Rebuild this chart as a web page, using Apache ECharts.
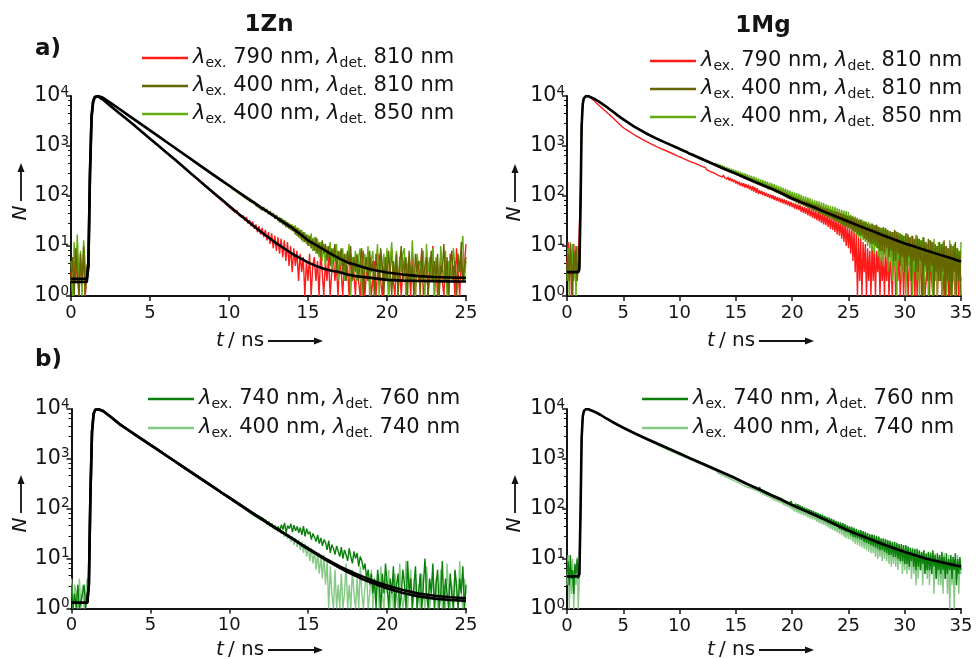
<!DOCTYPE html>
<html>
<head>
<meta charset="utf-8">
<script src="https://cdn.jsdelivr.net/npm/echarts@6/dist/echarts.min.js"></script>
<style>
  html, body { margin: 0; padding: 0; background: #fff; }
  #chart { width: 976px; height: 659px; }
</style>
</head>
<body>
<div id="chart"></div>
<script>
// Time-correlated photon counting decays, channel width of the traces below (ns)
const dt = 0.1;

// ---- 1Zn, panel a (0 ... 25 ns) ----
const zn_ex790_det810 = [
  3,1,5,2,8,1,4,2,6,1,3,
  4,310,4050,8050,9620,10000,9780,9480,9060,8610,
  8140,7600,7230,6700,6340,5900,5620,5250,5010,4670,
  4460,4130,3950,3690,3520,3260,3120,2900,2790,2580,
  2460,2280,2170,2010,1920,1770,1700,1570,1510,1385,
  1330,1225,1180,1080,1045,955,925,845,820,748,
  726,660,645,583,568,515,502,455,447,401,
  394,354,348,312,309,276,273,244,242,214,
  214,188,189,166,168,146,148,130,131,114,
  117,100,104,88,92,78,82,69,73,60,
  65,53,58,47,52,42,46,37,41,32,
  38,28,33,25,31,22,27,19,25,17,
  23,15,21,13,19,11,18,9,16,8,
  15,7,14,6,13,5,12,4,10,3,
  9,4,8,2,7,3,6,1,5,2,
  7,1,4,6,2,5,1,8,3,1,
  5,2,6,1,3,7,2,4,1,5,
  3,1,6,2,4,1,7,2,3,1,
  5,2,1,4,8,1,3,2,6,1,
  2,5,1,3,7,2,1,4,2,6,
  1,3,9,2,1,5,2,4,1,3,
  6,1,2,4,1,7,3,1,5,2,
  3,8,1,2,5,1,4,2,10,1,
  4,1,3,6,2,1,5,3,1,7,
  2,4,1,9,3,1,6,2,4,11
];
const zn_ex400_det810 = [
  2,6,1,9,3,1,7,2,10,1,4,
  5,240,3450,7450,9250,9880,10020,9870,9620,9310,
  8890,8430,8080,7640,7320,6930,6640,6280,6010,5680,
  5430,5120,4900,4610,4420,4160,3990,3750,3600,3390,
  3250,3060,2950,2770,2670,2500,2410,2250,2180,2030,
  1970,1830,1780,1650,1610,1490,1450,1340,1310,1215,
  1185,1090,1070,985,970,890,875,805,795,725,
  715,655,650,590,585,530,530,480,478,432,
  436,390,392,352,354,316,320,285,290,258,
  262,236,241,213,204,207,183,186,166,158,
  160,139,145,128,133,114,118,104,109,93,
  99,84,91,76,81,77,64,70,59,63,
  52,60,48,53,43,49,40,45,35,41,
  38,30,36,27,33,24,30,22,27,20,
  25,17,23,15,21,13,19,12,17,10,
  16,9,14,8,15,7,12,6,13,7,
  11,5,10,4,9,6,11,3,8,5,
  9,3,7,2,8,4,10,2,6,3,
  7,2,5,9,1,4,6,2,8,3,
  5,1,7,3,2,9,4,1,6,2,
  8,3,1,5,2,7,1,4,10,2,
  3,6,1,8,2,4,1,7,3,5,
  1,9,2,4,6,1,3,8,2,5,
  2,7,1,4,3,11,2,6,1,4,
  8,2,5,1,7,3,12,2,4,6
];
const zn_ex400_det850 = [
  5,1,12,3,17,2,8,1,13,4,2,
  6,230,3400,7400,9200,9850,10000,9880,9600,9300,
  8840,8470,8020,7690,7270,6970,6590,6320,5960,5720,
  5390,5160,4860,4650,4380,4190,3950,3790,3560,3410,
  3220,3100,2910,2800,2630,2540,2370,2290,2140,2070,
  1930,1870,1740,1690,1570,1530,1420,1380,1280,1245,
  1160,1125,1045,1020,940,920,850,830,765,750,
  695,676,625,612,565,552,508,500,458,452,
  415,406,375,368,338,334,305,300,276,270,
  250,246,224,224,202,202,183,184,165,167,
  148,152,134,137,121,124,110,112,99,102,
  89,94,80,86,73,78,66,71,60,64,
  54,59,50,55,45,50,41,46,37,42,
  32,38,29,35,26,32,23,29,21,27,
  19,26,16,23,14,21,12,19,11,17,
  10,18,8,15,7,14,6,12,5,11,
  4,10,6,12,3,9,5,11,2,8,
  4,9,2,7,5,11,1,6,3,8,
  2,6,9,1,4,7,3,10,1,5,
  8,2,4,11,1,6,3,7,2,9,
  1,5,12,2,4,8,1,6,3,7,
  9,1,4,6,2,13,3,1,7,4,
  5,2,8,1,11,3,6,2,9,1,
  6,3,1,10,4,2,8,1,5,3,
  2,9,4,1,6,3,8,16,2,5
];

// fitted curves, 1Zn time grid
const fitTimesZn = [0,1,1.1,1.2,1.3,1.4,1.5,1.6,1.7,1.8,
  2,2.5,3,3.5,4,4.5,5,5.5,6,6.5,7,7.5,8,8.5,9,9.5,10,10.5,11,11.5,12,12.5,13,13.5,14,14.5,15,15.5,16,16.5,17,17.5,18,18.5,19,19.5,20,
  21,22,23,24,25];
const fitZn_ex790 = [1.9,1.9,4,300,4000,8000,9600,10000,9850,9500,
  8600,6300,4700,3500,2600,1900,1400,1030,760,560,410,300,220,161,118,87,64,47,35,26,19.5,14.8,11.3,8.9,7,5.7,4.7,4.0,3.5,3.2,3.0,2.7,2.5,2.4,2.3,2.2,2.1,
  2.03,2.0,1.98,1.96,1.95];
const fitZn_ex400 = [2.2,2.2,4,250,3500,7500,9300,9900,10000,9900,
  9300,7300,5700,4400,3400,2650,2050,1590,1230,955,740,574,445,345,268,208,162,126,98,77,60,47,37,29,23,17.3,13,10.5,8.5,6.8,5.6,4.7,4.2,3.75,3.4,3.15,2.95,
  2.7,2.5,2.4,2.35,2.3];

// ---- 1Mg, panel a (0 ... 35 ns) ----
const mg_ex790_det810 = [
  4,12,2,9,1,6,11,3,8,2,5,
  5,120,3200,7600,9300,9800,10000,9950,9820,9690,
  9260,8800,8400,8000,7650,7270,6950,6600,6320,6010,
  5760,5480,5250,5000,4800,4580,4380,4170,4000,3810,
  3620,3450,3270,3120,2960,2820,2680,2550,2430,2300,
  2240,2160,2100,2020,1960,1890,1840,1770,1720,1650,
  1610,1560,1520,1470,1435,1390,1355,1310,1280,1240,
  1215,1175,1155,1115,1095,1060,1040,1005,985,955,
  940,912,900,870,860,830,822,792,785,758,
  750,722,716,688,684,655,652,624,622,596,
  596,566,568,538,542,510,517,486,493,470,
  475,446,456,423,437,405,418,387,399,374,
  382,352,368,335,356,318,343,305,321,292,
  304,276,296,260,285,250,272,238,262,232,
  247,218,240,205,230,196,220,188,210,178,
  200,170,192,160,185,155,180,148,172,144,
  168,136,160,128,158,122,150,116,143,110,
  130,110,126,104,120,100,115,96,110,92,
  106,88,104,84,99,80,95,77,92,74,
  88,71,85,68,82,65,79,62,76,60,
  73,56,71,54,68,52,66,48,62,46,
  60,44,58,41,57,39,54,37,52,35,
  50,33,48,31,47,29,44,27,42,26,
  41,24,39,22,38,21,35,19,33,17,
  32,16,31,14,29,12,27,10,25,9,
  24,7,22,5,20,3,18,1,15,2,
  14,1,12,3,11,1,9,2,8,1,
  11,2,9,1,8,3,10,1,6,2,
  8,1,7,2,9,1,5,3,1,6,
  7,1,4,2,8,1,3,6,1,5,
  2,6,1,4,9,1,3,5,1,7,
  1,4,2,8,1,3,6,1,2,5,
  3,1,7,2,1,5,2,9,1,4,
  2,6,1,3,1,8,2,4,1,5,
  1,3,7,2,1,4,6,1,3,2
];
const mg_ex400_det810 = [
  3,7,2,11,4,1,8,3,10,2,5,
  4,70,2600,7100,9050,9700,9980,10020,9900,9780,
  9560,9200,9010,8690,8500,8190,8010,7720,7550,7270,
  7060,6740,6540,6250,6070,5800,5630,5370,5220,4970,
  4850,4600,4490,4260,4160,3940,3850,3650,3570,3380,
  3320,3150,3100,2940,2900,2750,2710,2560,2540,2400,
  2380,2260,2240,2130,2120,2000,1995,1890,1885,1780,
  1780,1690,1690,1600,1605,1520,1525,1445,1450,1370,
  1385,1305,1320,1245,1255,1190,1200,1135,1145,1080,
  1100,1025,1050,980,1005,935,965,895,920,850,
  885,810,840,775,805,735,770,700,735,670,
  705,640,675,610,645,580,620,555,585,530,
  552,514,527,490,503,468,481,447,459,428,
  440,405,421,386,402,370,383,354,366,337,
  352,321,337,306,322,294,309,283,297,270,
  285,262,274,248,263,236,251,226,240,215,
  230,207,222,196,212,188,202,180,194,171,
  186,166,180,158,172,150,165,143,156,137,
  152,132,147,124,140,118,133,112,127,107,
  122,102,117,96,111,90,106,86,101,82,
  97,78,94,74,90,70,86,67,82,64,
  80,61,78,58,75,56,72,53,68,51,
  67,49,65,46,62,44,59,41,56,40,
  56,38,54,36,52,34,50,32,48,31,
  47,29,45,27,44,25,42,24,40,23,
  40,22,39,20,37,19,35,17,33,16,
  33,16,31,14,30,13,28,12,27,11,
  28,11,26,10,27,9,24,8,23,8,
  24,7,23,9,21,6,20,8,19,5,
  21,5,19,7,18,4,17,6,16,3,
  18,4,17,6,15,2,16,5,14,3,
  16,3,14,5,13,1,15,4,12,2,
  14,2,13,4,12,1,11,3,10,2,
  12,2,11,3,13,1,10,2,9,1,
  11,1,10,3,12,1,9,2,8,1
];
const mg_ex400_det850 = [
  2,9,1,12,3,11,2,7,1,10,4,
  3,60,2550,7050,9000,9680,9990,10000,9880,9770,
  9500,9260,8960,8740,8450,8240,7960,7760,7500,7310,
  7000,6790,6500,6290,6030,5840,5590,5410,5180,5010,
  4800,4650,4440,4310,4110,3990,3800,3700,3530,3420,
  3280,3200,3060,2990,2850,2800,2660,2610,2490,2440,
  2340,2300,2200,2170,2070,2050,1955,1930,1845,1815,
  1740,1720,1650,1640,1565,1560,1490,1480,1415,1410,
  1345,1345,1280,1285,1220,1230,1165,1175,1110,1120,
  1055,1075,1010,1030,965,985,920,945,880,900,
  830,870,790,830,760,795,725,760,695,725,
  650,700,625,665,600,635,575,610,550,585,
  520,565,500,540,480,520,460,500,440,480,
  410,458,395,440,378,425,362,410,348,395,
  326,378,314,362,302,350,290,338,278,326,
  262,316,252,304,242,294,232,282,222,272,
  208,262,200,252,192,244,184,234,176,226,
  166,216,160,208,152,200,146,194,140,186,
  132,180,126,172,120,166,114,158,110,152,
  104,146,98,140,94,134,90,128,86,122,
  82,118,78,114,74,110,70,106,67,100,
  64,97,61,94,58,90,55,86,53,82,
  50,80,47,78,45,75,43,72,41,68,
  39,66,36,64,34,62,33,60,31,57,
  30,55,28,53,26,51,25,50,23,48,
  22,42,20,40,18,39,17,37,15,35,
  14,34,13,32,12,31,10,30,9,28,
  8,27,7,26,9,25,6,24,5,23,
  4,22,6,21,3,20,5,19,2,19,
  4,20,1,19,5,18,2,17,3,16,
  1,18,4,15,2,16,1,14,3,17,
  2,14,1,13,4,15,1,12,3,11,
  1,13,3,12,1,14,2,10,1,12,
  2,11,1,12,3,10,1,9,2,13,
  1,10,2,11,1,9,3,8,1,12
];

// fitted curves, 1Mg time grid
const fitTimesMg = [0,1,1.1,1.2,1.3,1.4,1.5,1.6,1.7,1.8,1.9,2,2.5,3,3.5,4,4.5,5,
  6,7,8,9,10,11,12,13,14,15,16,17,18,19,20,21,22,23,24,25,26,27,28,29,30,31,32,33,34,35];
const fitMg_ex400 = [3,3,3.5,60,2500,7000,9000,9700,10000,10000,9900,9800,8600,7300,6100,5000,4100,3400,
  2420,1800,1390,1100,875,690,550,437,347,280,224,180,145,115,89,72,59,47,38,31,25,20.5,16.6,13.7,11.2,9.5,8,6.8,5.8,4.9];

// ---- 1Zn, panel b (0 ... 25 ns) ----
const zn_ex740_det760 = [
  3,1,2,1,3,1,1,2,3,1,2,
  3,210,3450,7950,9580,10000,9910,9690,9400,9080,
  8620,8120,7740,7270,6930,6480,6130,5740,5440,5090,
  4880,4600,4410,4160,4000,3770,3620,3410,3280,3080,
  2970,2790,2700,2530,2450,2290,2220,2080,2020,1885,
  1835,1710,1665,1550,1510,1405,1372,1275,1245,1155,
  1130,1048,1027,950,932,862,846,780,768,708,
  697,640,632,581,575,526,521,477,472,432,
  430,392,390,355,354,322,322,293,290,265,
  265,240,240,218,218,197,198,178,179,162,
  164,146,148,133,136,119,122,109,112,98,
  103,88,94,80,86,72,78,66,71,60,
  66,54,60,49,55,45,50,41,46,37,
  44,35,48,38,52,33,46,40,50,34,
  47,36,44,33,42,30,45,28,40,31,
  35,24,32,27,22,30,20,26,18,24,
  21,15,23,13,19,16,12,18,14,11,
  17,10,15,12,9,16,11,8,14,10,
  13,7,11,9,6,8,4,6,3,5,
  2,4,1,6,3,1,5,2,8,3,
  1,4,2,7,1,3,5,1,2,6,
  3,1,9,2,4,1,3,7,1,2,
  5,1,3,10,2,1,4,2,8,1,
  3,6,1,2,9,1,4,2,1,5,
  2,1,6,3,1,4,2,7,1,3
];
const zn_ex400_det740 = [
  4,1,3,2,1,4,1,3,1,2,4,
  3,190,3400,7900,9550,9980,9900,9700,9380,9100,
  8590,8160,7700,7310,6890,6520,6090,5780,5400,5120,
  4840,4640,4370,4200,3960,3810,3580,3440,3240,3110,
  2930,2820,2660,2560,2410,2320,2180,2110,1980,1915,
  1795,1740,1630,1580,1480,1435,1340,1300,1215,1180,
  1100,1070,995,970,905,880,820,800,742,725,
  672,658,610,598,552,544,500,494,455,448,
  412,406,373,370,340,336,308,304,280,275,
  254,250,230,227,208,205,188,187,171,168,
  154,162,138,146,126,133,114,122,104,110,
  95,100,86,90,78,82,70,75,63,68,
  57,63,52,56,47,51,43,46,38,42,
  34,39,31,35,27,33,25,30,22,28,
  19,26,17,24,15,22,13,20,11,18,
  9,16,8,14,6,13,5,11,4,12,
  3,9,1,7,2,1,6,1,3,1,
  5,1,2,8,1,3,1,6,2,1,
  4,1,7,2,1,3,5,1,2,6,
  1,3,2,5,1,7,2,1,4,2,
  6,1,3,1,5,2,1,8,2,1,
  2,9,1,3,6,1,2,4,1,3,
  1,5,2,1,7,3,1,2,6,1,
  4,1,2,6,1,3,1,8,2,1,
  3,1,5,2,1,9,2,1,4,2
];
const fitZn_ex740 = [1.3,1.3,3,200,3500,8000,9600,10000,9900,9700,
  9100,6900,5100,3980,3100,2430,1905,1495,1170,916,718,563,441,346,271,212,167,131,103,81,64,50.5,40,31.6,25.1,20,16,12.9,10.4,8.5,7.0,5.9,5.0,4.3,3.7,3.25,2.9,
  2.35,2.0,1.8,1.68,1.6];
const fitZn_ex400b = [1.3,1.3,3,200,3500,8000,9600,10000,9900,9700,
  9100,6900,5100,3980,3100,2430,1905,1495,1170,916,718,563,441,346,271,212,167,131,103,81,64,50.5,40,31.6,25.1,19.6,15.5,12.4,9.9,8.0,6.5,5.4,4.5,3.8,3.3,2.9,2.55,
  2.05,1.75,1.58,1.48,1.42];

// ---- 1Mg, panel b (0 ... 35 ns) ----
const mg_ex740_det760 = [
  5,9,3,12,4,6,2,8,5,10,4,
  5,90,2650,7150,9120,9760,10010,9990,9890,9760,
  9580,9320,9140,8900,8720,8470,8260,8010,7810,7580,
  7360,7110,6900,6660,6470,6260,6090,5890,5740,5550,
  5420,5250,5130,4970,4850,4700,4590,4450,4350,4210,
  4120,4000,3920,3800,3720,3610,3540,3430,3360,3260,
  3200,3110,3050,2960,2910,2820,2770,2690,2640,2560,
  2520,2445,2410,2335,2300,2230,2195,2125,2100,2030,
  2005,1940,1915,1850,1830,1770,1750,1690,1670,1610,
  1600,1535,1530,1465,1460,1400,1395,1335,1335,1275,
  1280,1215,1220,1160,1170,1105,1115,1055,1065,1005,
  1015,960,970,915,928,875,888,835,850,800,
  812,765,778,730,744,697,712,665,680,634,
  648,604,620,576,594,550,568,525,542,500,
  518,478,496,456,474,436,455,415,434,395,
  412,376,394,356,373,338,352,320,337,306,
  322,293,309,279,296,267,283,255,271,243,
  275,248,263,237,252,225,241,214,230,203,
  217,194,209,186,201,178,193,170,185,163,
  171,153,165,145,158,139,151,131,144,125,
  133,116,128,110,124,105,118,99,112,95,
  107,88,103,84,99,80,95,77,91,73,
  86,69,83,66,80,62,77,60,73,57,
  69,52,67,50,64,48,61,46,58,44,
  56,40,54,38,52,37,50,35,47,34,
  45,30,44,28,42,27,40,26,38,25,
  38,24,36,22,35,21,33,20,31,19,
  31,18,30,17,29,16,28,15,26,15,
  26,14,25,13,24,12,23,12,22,11,
  22,11,21,10,20,9,20,9,19,8,
  19,8,18,7,17,9,16,7,16,6,
  16,7,15,6,14,8,15,5,13,6,
  14,6,13,5,15,7,12,4,13,6,
  12,5,14,6,11,4,13,5,10,6,
  12,4,11,6,13,3,10,5,11,6
];
const mg_ex400_det740 = [
  3,12,1,7,2,10,1,6,3,11,1,
  4,70,2550,7050,9080,9740,10000,9980,9880,9750,
  9540,9310,9110,8890,8690,8450,8220,7990,7770,7560,
  7310,7070,6850,6620,6420,6220,6040,5850,5680,5510,
  5360,5200,5060,4920,4780,4640,4520,4400,4280,4160,
  4040,3930,3830,3720,3630,3530,3440,3350,3260,3180,
  3100,3020,2950,2880,2810,2740,2680,2610,2550,2490,
  2420,2360,2300,2250,2200,2150,2100,2050,2000,1960,
  1870,1795,1785,1715,1705,1640,1630,1565,1555,1495,
  1475,1410,1410,1345,1345,1285,1290,1225,1230,1170,
  1180,1110,1125,1060,1080,1010,1030,962,985,915,
  940,875,900,835,862,798,822,762,788,728,
  752,695,720,662,690,632,660,603,630,575,
  600,548,575,522,552,498,528,476,506,452,
  480,433,462,412,442,392,423,374,404,356,
  382,338,365,320,346,302,328,286,312,275,
  300,262,288,248,276,238,263,228,252,218,
  240,206,230,195,218,186,208,176,198,168,
  186,156,180,148,172,142,164,136,156,130,
  150,122,144,116,138,110,132,104,126,98,
  118,90,114,86,110,82,106,78,100,75,
  96,72,92,68,90,65,86,62,82,60,
  78,56,76,53,73,50,70,48,66,46,
  63,43,61,40,59,38,56,36,53,34,
  52,32,50,30,49,28,46,26,44,25,
  43,24,41,22,40,20,38,19,36,18,
  36,17,34,16,33,15,31,14,30,13,
  30,13,28,11,27,10,26,11,24,9,
  25,10,24,9,22,8,23,7,21,8,
  21,7,20,6,19,8,18,5,17,6,
  18,5,17,6,16,4,17,5,15,3,
  15,4,14,6,13,3,15,5,12,4,
  13,3,14,5,12,2,13,4,11,3,
  12,3,11,2,13,4,10,2,12,1,
  10,3,11,1,9,4,12,2,8,5
];
const fitMg_ex740 = [4.5,4.5,5,80,2600,7100,9100,9750,10000,10000,9900,9770,8710,7590,6460,5560,4840,4220,
  3270,2570,2040,1620,1290,1020,813,646,513,407,316,251,195,155,120,95,76,60,47,37,30,24.5,20,16.6,13.8,11.7,10,8.9,7.9,7.1];

// ---- drawing ----
const FONT = 'DejaVu Sans';
const INK = '#141414';
const colors = {
  ex790det810: '#ff1a1a',
  ex400det810: '#666600',
  ex400det850: '#63ad12',
  ex740det760: '#0a800a',
  ex400det740: '#85c985'
};

const trace = vals => vals.map((v, i) => [Math.round(i * dt * 10) / 10, v]);
const pairs = (ts, vs) => ts.map((t, i) => [t, vs[i]]);

function dataLine(name, vals, panel) {
  return {
    type: 'line', name, xAxisIndex: panel, yAxisIndex: panel,
    data: trace(vals), symbol: 'none', showSymbol: false, clip: true,
    silent: true, animation: false, z: 2,
    lineStyle: { width: 1.4, color: colors[name] }, itemStyle: { color: colors[name] }
  };
}
function fitLine(ts, vs, panel) {
  return {
    type: 'line', name: 'fit', xAxisIndex: panel, yAxisIndex: panel,
    data: pairs(ts, vs), symbol: 'none', showSymbol: false, clip: true,
    silent: true, animation: false, z: 3,
    lineStyle: { width: 2.6, color: '#000' }, itemStyle: { color: '#000' }
  };
}

const grids = [
  { left: 71, top: 96, width: 395, height: 200 },
  { left: 567, top: 96, width: 394, height: 200 },
  { left: 71.5, top: 409, width: 394.5, height: 199.5 },
  { left: 567, top: 409, width: 394, height: 200 }
];
const xMax = [25, 35, 25, 35];

const xAxes = grids.map((g, i) => ({
  type: 'value', gridIndex: i, min: 0, max: xMax[i], interval: 5,
  axisLine: { show: true, onZero: false, lineStyle: { color: INK, width: 2 } },
  axisTick: { show: true, inside: false, length: 5, lineStyle: { color: INK, width: 1.5 } },
  axisLabel: { color: INK, fontFamily: FONT, fontSize: 18, margin: 8 },
  splitLine: { show: false }
}));
const yAxes = grids.map((g, i) => ({
  type: 'log', gridIndex: i, min: 1, max: 10000, logBase: 10,
  axisLine: { show: true, lineStyle: { color: INK, width: 2 } },
  axisTick: { show: true, inside: false, length: 5, lineStyle: { color: INK, width: 1.5 } },
  minorTick: { show: true, splitNumber: 5, length: 3, lineStyle: { color: INK, width: 1 } },
  splitLine: { show: false },
  axisLabel: {
    margin: 2, color: INK, fontFamily: FONT,
    formatter: v => '{b|10}{s|' + Math.round(Math.log10(v)) + '}',
    rich: {
      b: { fontSize: 20.5, fontFamily: FONT, color: INK, lineHeight: 24 },
      s: { fontSize: 13.5, fontFamily: FONT, color: INK, lineHeight: 13, verticalAlign: 'top' }
    }
  }
}));

const legendRich = {
  l: { fontSize: 21, fontStyle: 'italic', fontFamily: FONT, color: INK, lineHeight: 24 },
  s: { fontSize: 14, fontFamily: FONT, color: INK, lineHeight: 13, verticalAlign: 'bottom' },
  n: { fontSize: 21, fontFamily: FONT, color: INK, lineHeight: 24 }
};
const legendFormatter = name => {
  const m = name.match(/ex(\d+)det(\d+)/);
  return '{l|λ}{s|ex.}{n| ' + m[1] + ' nm, }{l|λ}{s|det.}{n| ' + m[2] + ' nm}';
};
function legendBox(names, left, top, gap) {
  return {
    data: names.map(n => ({ name: n, itemStyle: { color: colors[n] } })),
    orient: 'vertical', left, top, itemGap: gap, itemWidth: 46, itemHeight: 2.6,
    icon: 'rect', selectedMode: false, padding: 0,
    formatter: legendFormatter,
    textStyle: { fontFamily: FONT, fontSize: 21, color: INK, lineHeight: 24, rich: legendRich }
  };
}

const series = [
  dataLine('ex790det810', zn_ex790_det810, 0),
  dataLine('ex400det850', zn_ex400_det850, 0),
  dataLine('ex400det810', zn_ex400_det810, 0),
  fitLine(fitTimesZn, fitZn_ex790, 0),
  fitLine(fitTimesZn, fitZn_ex400, 0),

  dataLine('ex790det810', mg_ex790_det810, 1),
  dataLine('ex400det850', mg_ex400_det850, 1),
  dataLine('ex400det810', mg_ex400_det810, 1),
  fitLine(fitTimesMg, fitMg_ex400, 1),

  dataLine('ex400det740', zn_ex400_det740, 2),
  dataLine('ex740det760', zn_ex740_det760, 2),
  fitLine(fitTimesZn, fitZn_ex740, 2),
  fitLine(fitTimesZn, fitZn_ex400b, 2),

  dataLine('ex400det740', mg_ex400_det740, 3),
  dataLine('ex740det760', mg_ex740_det760, 3),
  fitLine(fitTimesMg, fitMg_ex740, 3)
];

// axis titles: "t / ns ->" below each panel, "N ->" beside each panel
function arrowRight(x1, x2, y) {
  return [
    { type: 'line', shape: { x1, y1: y, x2: x2 - 6, y2: y }, style: { stroke: INK, lineWidth: 1.8 } },
    { type: 'polygon', shape: { points: [[x2, y], [x2 - 9, y - 3.5], [x2 - 9, y + 3.5]] }, style: { fill: INK } }
  ];
}
function arrowUp(x, y1, y2) {
  return [
    { type: 'line', shape: { x1: x, y1, x2: x, y2: y2 + 6 }, style: { stroke: INK, lineWidth: 1.8 } },
    { type: 'polygon', shape: { points: [[x, y2], [x - 3.5, y2 + 9], [x + 3.5, y2 + 9]] }, style: { fill: INK } }
  ];
}
function xTitle(x, y) {
  return [
    { type: 'text', x, y, style: { text: 't', font: 'italic 20px "DejaVu Sans"', fill: INK, verticalAlign: 'middle' } },
    { type: 'text', x: x + 12, y, style: { text: '/ ns', font: '20px "DejaVu Sans"', fill: INK, verticalAlign: 'middle' } },
    ...arrowRight(x + 52, x + 107, y)
  ];
}
function yTitle(x, yN) {
  return [
    { type: 'text', x, y: yN, rotation: Math.PI / 2,
      style: { text: 'N', font: 'italic 20px "DejaVu Sans"', fill: INK, align: 'center', verticalAlign: 'middle' } },
    ...arrowUp(x, yN - 12, yN - 50)
  ];
}
function label(text, x, y, align) {
  return { type: 'text', x, y, style: { text, font: 'bold 23px "DejaVu Sans"', fill: INK, align, verticalAlign: 'middle' } };
}

const graphic = [
  label('1Zn', 269, 25, 'center'),
  label('1Mg', 763, 26, 'center'),
  label('a)', 35, 49, 'left'),
  label('b)', 35, 360, 'left'),
  ...xTitle(216, 341), ...xTitle(707, 341), ...xTitle(216, 650), ...xTitle(707, 650),
  ...yTitle(21, 213), ...yTitle(515, 214), ...yTitle(21, 525), ...yTitle(515, 525)
];

const chart = echarts.init(document.getElementById('chart'), null, { renderer: 'canvas' });
chart.setOption({
  animation: false,
  backgroundColor: '#fff',
  grid: grids,
  xAxis: xAxes,
  yAxis: yAxes,
  legend: [
    legendBox(['ex790det810', 'ex400det810', 'ex400det850'], 142, 46, 4),
    legendBox(['ex790det810', 'ex400det810', 'ex400det850'], 650, 49, 4),
    legendBox(['ex740det760', 'ex400det740'], 148, 387, 5),
    legendBox(['ex740det760', 'ex400det740'], 642, 387, 5)
  ],
  graphic,
  series
});
</script>
</body>
</html>
